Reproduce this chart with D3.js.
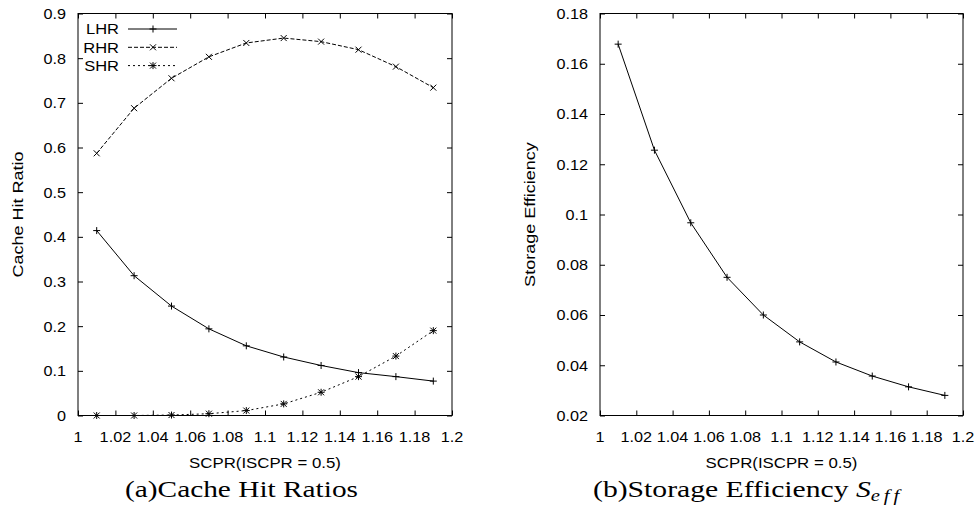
<!DOCTYPE html>
<html><head><meta charset="utf-8">
<script src="https://cdn.jsdelivr.net/npm/d3@7"></script>
<style>
html,body{margin:0;padding:0;background:#fff;}
svg{display:block;}
</style>
</head><body>
<svg id="chart" width="977" height="514"></svg>
<script>
// ---- data ----
const scpr = [1.01, 1.03, 1.05, 1.07, 1.09, 1.11, 1.13, 1.15, 1.17, 1.19];
const lhr  = [0.414, 0.313, 0.245, 0.194, 0.156, 0.131, 0.112, 0.096, 0.087, 0.077];
const rhr  = [0.587, 0.688, 0.755, 0.803, 0.834, 0.845, 0.837, 0.819, 0.781, 0.734];
const shr  = [0.000, 0.000, 0.001, 0.004, 0.011, 0.026, 0.052, 0.087, 0.133, 0.190];
const seff = [0.1678, 0.1256, 0.0967, 0.0750, 0.0600, 0.0493, 0.0413, 0.0357, 0.0314, 0.0280];
const xTicks = [1, 1.02, 1.04, 1.06, 1.08, 1.1, 1.12, 1.14, 1.16, 1.18, 1.2];
const xTickLabels = ["1","1.02","1.04","1.06","1.08","1.1","1.12","1.14","1.16","1.18","1.2"];
const yTicksA = [0, 0.1, 0.2, 0.3, 0.4, 0.5, 0.6, 0.7, 0.8, 0.9];
const yTickLabelsA = ["0","0.1","0.2","0.3","0.4","0.5","0.6","0.7","0.8","0.9"];
const yTicksB = [0.02, 0.04, 0.06, 0.08, 0.1, 0.12, 0.14, 0.16, 0.18];
const yTickLabelsB = ["0.02","0.04","0.06","0.08","0.1","0.12","0.14","0.16","0.18"];
const seriesNames = ["LHR", "RHR", "SHR"];

const svg = d3.select("#chart");
const SANS = "'Liberation Sans', Arial, Helvetica, sans-serif";
const SERIF = "'Liberation Serif', 'Times New Roman', serif";
const FS = 15;

function stretch(sel, f) {
  sel.each(function() {
    const len = this.getComputedTextLength();
    d3.select(this).attr("textLength", len * f).attr("lengthAdjust", "spacingAndGlyphs");
  });
}

function marker(g, type, cx, cy) {
  const s = 3.5, t = 3;
  const p = d3.path();
  if (type === "plus" || type === "star") {
    p.moveTo(cx - s, cy); p.lineTo(cx + s, cy);
    p.moveTo(cx, cy - s); p.lineTo(cx, cy + s);
  }
  if (type === "cross" || type === "star") {
    p.moveTo(cx - t, cy - t); p.lineTo(cx + t, cy + t);
    p.moveTo(cx - t, cy + t); p.lineTo(cx + t, cy - t);
  }
  g.append("path").attr("d", p.toString()).attr("stroke", "#000").attr("stroke-width", 1).attr("fill", "none");
}

function panel(opt) {
  const x = d3.scaleLinear().domain([1, 1.2]).range([opt.left, opt.right]);
  const y = d3.scaleLinear().domain(opt.yDomain).range([opt.bottom, opt.top]);
  const g = svg.append("g");
  const tl = 5;
  const bottomAxis = d3.axisBottom(x).tickValues(xTicks).tickSize(-tl).tickFormat("");
  const topAxis = d3.axisTop(x).tickValues(xTicks).tickSize(-tl).tickFormat("");
  const leftAxis = d3.axisLeft(y).tickValues(opt.yTicks).tickSize(-tl).tickFormat("");
  const rightAxis = d3.axisRight(y).tickValues(opt.yTicks).tickSize(-tl).tickFormat("");
  [[bottomAxis, `translate(0,${opt.bottom})`], [topAxis, `translate(0,${opt.top})`],
   [leftAxis, `translate(${opt.left},0)`], [rightAxis, `translate(${opt.right},0)`]].forEach(([ax, tr]) => {
    const a = g.append("g").attr("transform", tr).call(ax);
    a.select(".domain").remove();
    a.selectAll("line").attr("stroke", "#000").attr("stroke-width", 1);
  });
  g.append("rect").attr("x", opt.left).attr("y", opt.top)
    .attr("width", opt.right - opt.left).attr("height", opt.bottom - opt.top)
    .attr("fill", "none").attr("stroke", "#000").attr("stroke-width", 1);
  const xl = g.selectAll(".xl").data(xTicks).enter().append("text")
    .attr("x", d => x(d)).attr("y", opt.bottom + 26)
    .attr("text-anchor", "middle").attr("font-family", SANS).attr("font-size", FS)
    .text((d, i) => xTickLabels[i]);
  stretch(xl, 1.08);
  const yl = g.selectAll(".yl").data(opt.yTicks).enter().append("text")
    .attr("x", opt.left - 12).attr("y", d => y(d)).attr("dy", "0.36em")
    .attr("text-anchor", "end").attr("font-family", SANS).attr("font-size", FS)
    .text((d, i) => opt.yTickLabels[i]);
  stretch(yl, 1.08);
  const xt = g.append("text").attr("x", (opt.left + opt.right) / 2).attr("y", opt.bottom + 52)
    .attr("text-anchor", "middle").attr("font-family", SANS).attr("font-size", FS)
    .text("SCPR(ISCPR = 0.5)");
  stretch(xt, 1.12);
  const yt = g.append("text")
    .attr("transform", `translate(${opt.yTitleX},${(opt.top + opt.bottom) / 2}) rotate(-90)`)
    .attr("text-anchor", "middle").attr("font-family", SANS).attr("font-size", FS)
    .text(opt.yTitle);
  stretch(yt, 1.2);
  return {x, y, g};
}

// ---- panel (a) ----
const A = panel({left: 78, right: 452, top: 13.5, bottom: 415.5, yDomain: [0, 0.9],
  yTicks: yTicksA, yTickLabels: yTickLabelsA, yTitle: "Cache Hit Ratio", yTitleX: 23});

const seriesA = [
  {name: seriesNames[0], values: lhr, dash: null, mark: "plus"},
  {name: seriesNames[1], values: rhr, dash: "4,2", mark: "cross"},
  {name: seriesNames[2], values: shr, dash: "2,3", mark: "star"}
];
const lineA = d3.line().x(d => A.x(d[0])).y(d => A.y(d[1]));
seriesA.forEach((s, si) => {
  const pts = scpr.map((v, i) => [v, s.values[i]]);
  A.g.append("path").attr("d", lineA(pts)).attr("fill", "none").attr("stroke", "#000")
    .attr("stroke-width", 1).attr("stroke-dasharray", s.dash);
  pts.forEach(p => marker(A.g, s.mark, A.x(p[0]), A.y(p[1])));
  const ly = 29 + si * 18.3;
  const t = A.g.append("text").attr("x", 119).attr("y", ly).attr("dy", "0.36em")
    .attr("text-anchor", "end").attr("font-family", SANS).attr("font-size", FS).text(s.name);
  stretch(t, 1.1);
  A.g.append("line").attr("x1", 128).attr("x2", 177).attr("y1", ly).attr("y2", ly)
    .attr("stroke", "#000").attr("stroke-width", 1).attr("stroke-dasharray", s.dash);
  marker(A.g, s.mark, 153, ly);
});

// ---- panel (b) ----
const B = panel({left: 600, right: 963, top: 13.5, bottom: 415.5, yDomain: [0.02, 0.18],
  yTicks: yTicksB, yTickLabels: yTickLabelsB, yTitle: "Storage Efficiency", yTitleX: 535});
const ptsB = scpr.map((v, i) => [v, seff[i]]);
B.g.append("path").attr("d", d3.line().x(d => B.x(d[0])).y(d => B.y(d[1]))(ptsB))
  .attr("fill", "none").attr("stroke", "#000").attr("stroke-width", 1);
ptsB.forEach(p => marker(B.g, "plus", B.x(p[0]), B.y(p[1])));

// ---- captions ----
const capA = svg.append("text").attr("x", 125).attr("y", 497)
  .attr("font-family", SERIF).attr("font-size", 23).text("(a)Cache Hit Ratios");
capA.attr("textLength", 233).attr("lengthAdjust", "spacingAndGlyphs");

const capB = svg.append("text").attr("x", 593).attr("y", 497)
  .attr("font-family", SERIF).attr("font-size", 23);
capB.append("tspan").text("(b)Storage Efficiency ");
capB.append("tspan").attr("font-style", "italic").text("S");
capB.append("tspan").attr("font-style", "italic").attr("font-size", 16).attr("dy", 4).attr("letter-spacing", 3).text("eff");
capB.attr("textLength", 310).attr("lengthAdjust", "spacingAndGlyphs");
</script>
</body></html>
